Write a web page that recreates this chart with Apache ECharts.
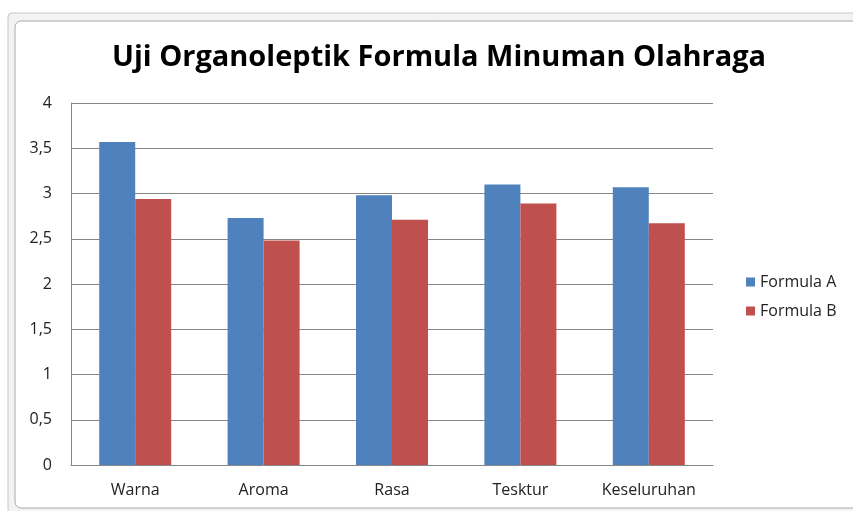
<!DOCTYPE html>
<html>
<head>
<meta charset="utf-8">
<script src="https://cdn.jsdelivr.net/npm/echarts@6/dist/echarts.min.js"></script>
<style>
html,body{margin:0;padding:0;background:#fff;}
#c{width:853px;height:511px;}
</style>
</head>
<body>
<div id="c"></div>
<script>
const title = "Uji Organoleptik Formula Minuman Olahraga";
const categories = ["Warna", "Aroma", "Rasa", "Tesktur", "Keseluruhan"];
const seriesNames = ["Formula A", "Formula B"];
const formulaA = [3.57, 2.73, 2.98, 3.10, 3.07];
const formulaB = [2.94, 2.48, 2.71, 2.89, 2.67];
const yTicks = [0, 0.5, 1, 1.5, 2, 2.5, 3, 3.5, 4];

const chart = echarts.init(document.getElementById('c'), null, {renderer: 'canvas'});
const font = '"Open Sans", Lato, sans-serif';
chart.setOption({
  animation: false,
  backgroundColor: '#ffffff',
  graphic: [
    {type: 'rect', shape: {x: 8, y: 13, width: 860, height: 510, r: 4}, style: {fill: '#f3f3f3', stroke: '#c8c8c8', lineWidth: 1}, z: -10},
    {type: 'rect', shape: {x: 15, y: 21, width: 850, height: 487, r: 6}, style: {fill: '#ffffff', stroke: '#a8a8a8', lineWidth: 1}, z: -9}
  ],
  title: {
    text: title,
    left: 107,
    top: 38,
    textStyle: {fontFamily: font, fontSize: 29, fontWeight: 'bold', color: '#000'}
  },
  color: ['#4F81BD', '#C0504D'],
  legend: {
    orient: 'vertical',
    left: 741,
    top: 269,
    itemWidth: 9,
    itemHeight: 9,
    itemGap: 13,
    icon: 'rect',
    data: seriesNames,
    textStyle: {fontFamily: font, fontSize: 16, color: '#222', padding: [0, 0, 0, 0]}
  },
  grid: {left: 71, right: 140, top: 103, bottom: 46},
  xAxis: {
    type: 'category',
    data: categories,
    axisLine: {lineStyle: {color: '#868686'}},
    axisTick: {show: false},
    axisLabel: {fontFamily: font, fontSize: 16, color: '#222', margin: 17}
  },
  yAxis: {
    type: 'value',
    min: 0,
    max: 4,
    interval: 0.5,
    axisLine: {show: true, lineStyle: {color: '#868686'}},
    axisTick: {show: false},
    splitLine: {lineStyle: {color: '#868686'}},
    axisLabel: {
      fontFamily: font, fontSize: 16, color: '#222', margin: 19,
      formatter: v => (yTicks.includes(v) ? String(v).replace('.', ',') : '')
    }
  },
  series: [
    {name: seriesNames[0], type: 'bar', data: formulaA, barWidth: 36, barGap: '0%'},
    {name: seriesNames[1], type: 'bar', data: formulaB, barWidth: 36, barGap: '0%'}
  ]
});
</script>
</body>
</html>
